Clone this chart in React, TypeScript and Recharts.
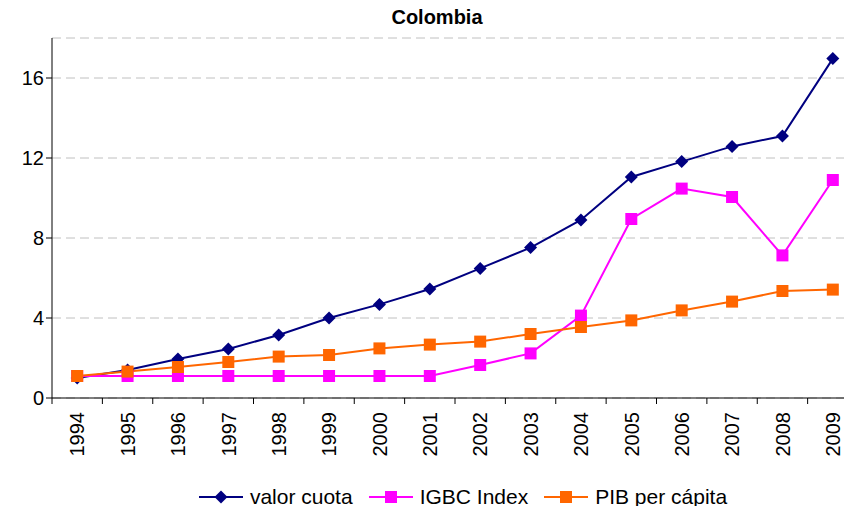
import React from "react"
import { LineChart, Line, XAxis, YAxis, CartesianGrid } from "recharts"

// Colombia: valor cuota vs IGBC vs PIB per cápita (1994 = 1)
const years = ["1994", "1995", "1996", "1997", "1998", "1999", "2000", "2001", "2002", "2003", "2004", "2005", "2006", "2007", "2008", "2009"]
const valorCuota = [1.0, 1.4, 1.95, 2.45, 3.15, 4.0, 4.68, 5.45, 6.48, 7.52, 8.9, 11.05, 11.82, 12.58, 13.1, 16.97]
const igbcIndex = [1.1, 1.1, 1.1, 1.1, 1.1, 1.1, 1.1, 1.1, 1.65, 2.23, 4.12, 8.95, 10.47, 10.05, 7.13, 10.9]
const pibPerCapita = [1.1, 1.32, 1.55, 1.8, 2.07, 2.15, 2.48, 2.67, 2.82, 3.2, 3.55, 3.88, 4.38, 4.82, 5.35, 5.42]
const yTicks = [0, 4, 8, 12, 16]

const data = years.map((year, i) => ({
  year,
  valor: valorCuota[i],
  igbc: igbcIndex[i],
  pib: pibPerCapita[i],
}))

const FONT = "'Liberation Sans', Arial, sans-serif"
const NAVY = "#000080"
const MAGENTA = "#FF00FF"
const ORANGE = "#FF6600"
const BAND = 806 / 16

const Diamond = ({ cx, cy, fill }: any) => {
  if (cx == null || cy == null) return null
  const r = 6.5
  return <path d={`M${cx},${cy - r}L${cx + r},${cy}L${cx},${cy + r}L${cx - r},${cy}Z`} fill={fill} />
}

const Square = ({ cx, cy, fill }: any) => {
  if (cx == null || cy == null) return null
  const s = 12
  return <rect x={cx - s / 2} y={cy - s / 2} width={s} height={s} fill={fill} />
}

const YearTick = ({ x, y, payload, index }: any) => {
  const left = x - BAND / 2
  return (
    <g>
      <line x1={left} y1={y - 8} x2={left} y2={y - 2} stroke="#000" />
      {index === years.length - 1 && <line x1={x + BAND / 2} y1={y - 8} x2={x + BAND / 2} y2={y - 2} stroke="#000" />}
      <text
        x={x}
        y={y + 6}
        dy="0.36em"
        transform={`rotate(-90, ${x}, ${y + 6})`}
        textAnchor="end"
        fontSize={20}
        fontFamily={FONT}
        fill="#000"
      >
        {payload.value}
      </text>
    </g>
  )
}

const legendItems = [
  { label: "valor cuota", color: NAVY, shape: "diamond" },
  { label: "IGBC Index", color: MAGENTA, shape: "square" },
  { label: "PIB per cápita", color: ORANGE, shape: "square" },
]

function ChartLegend() {
  return (
    <div style={{ position: "absolute", top: 485, left: 0, width: 852, display: "flex", justifyContent: "center", paddingLeft: 74, boxSizing: "border-box" }}>
      {legendItems.map((item, i) => (
        <div key={item.label} style={{ display: "flex", alignItems: "center", marginRight: i < legendItems.length - 1 ? 16 : 0 }}>
          <svg width={44} height={20}>
            <line x1={0} y1={10} x2={44} y2={10} stroke={item.color} strokeWidth={2} />
            {item.shape === "diamond" ? <Diamond cx={22} cy={10} fill={item.color} /> : <Square cx={22} cy={10} fill={item.color} />}
          </svg>
          <span style={{ fontFamily: FONT, fontSize: 21, marginLeft: 7, color: "#000" }}>{item.label}</span>
        </div>
      ))}
    </div>
  )
}

export default function App() {
  return (
    <div style={{ position: "relative", margin: -8, width: 852, height: 514, overflow: "hidden", background: "#fff" }}>
      <div style={{ position: "absolute", top: 6, left: 0, width: 874, textAlign: "center", fontFamily: FONT, fontWeight: "bold", fontSize: 20 }}>
        Colombia
      </div>
      <LineChart width={860} height={514} data={data} margin={{ top: 38, right: 2, left: 0, bottom: 46 }}>
        <CartesianGrid horizontal vertical={false} stroke="#c0c0c0" strokeDasharray="9 5" />
        <XAxis
          dataKey="year"
          height={70}
          stroke="#000"
          tickLine={false}
          tick={<YearTick />}
          interval={0}
          padding={{ left: BAND / 2, right: BAND / 2 }}
        />
        <YAxis
          domain={[0, 18]}
          ticks={yTicks}
          width={52}
          stroke="#000"
          tickSize={6}
          tick={{ fontSize: 20, fontFamily: FONT, fill: "#000" }}
        />
        <Line dataKey="valor" stroke={NAVY} strokeWidth={2} dot={<Diamond fill={NAVY} />} isAnimationActive={false} />
        <Line dataKey="igbc" stroke={MAGENTA} strokeWidth={2} dot={<Square fill={MAGENTA} />} isAnimationActive={false} />
        <Line dataKey="pib" stroke={ORANGE} strokeWidth={2} dot={<Square fill={ORANGE} />} isAnimationActive={false} />
      </LineChart>
      <ChartLegend />
    </div>
  )
}
